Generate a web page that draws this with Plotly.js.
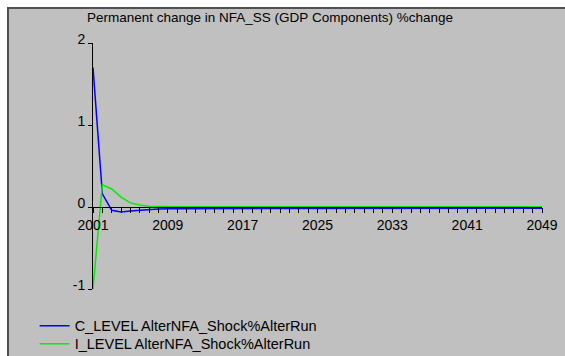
<!DOCTYPE html>
<html>
<head>
<meta charset="utf-8">
<script src="https://cdn.plot.ly/plotly-3.0.1.min.js"></script>
<style>
html,body{margin:0;padding:0;background:#ffffff;width:565px;height:356px;overflow:hidden;}
#frame{position:absolute;left:7px;top:7px;width:556px;height:347px;border-top:2px solid #505050;border-left:2px solid #505050;background:#c0c0c0;}
#chart{width:556px;height:347px;}
</style>
</head>
<body>
<div id="frame"><div id="chart"></div></div>
<script>
const years = [];
for (let y = 2001; y <= 2049; y++) years.push(y);

const cLevel = [1.70, 0.16, -0.04, -0.06, -0.05, -0.04, -0.03, -0.025, -0.02, -0.02,
  -0.018, -0.017, -0.016, -0.016, -0.015, -0.015, -0.015, -0.015, -0.015, -0.015,
  -0.015, -0.015, -0.015, -0.015, -0.015, -0.015, -0.015, -0.015, -0.015, -0.015,
  -0.015, -0.015, -0.015, -0.015, -0.015, -0.015, -0.015, -0.015, -0.015, -0.015,
  -0.015, -0.015, -0.015, -0.015, -0.015, -0.015, -0.015, -0.015, -0.015];

const iLevel = [-1.00, 0.27, 0.22, 0.12, 0.05, 0.025, 0.01, 0.005, 0.004, 0.003,
  0.003, 0.003, 0.003, 0.003, 0.003, 0.003, 0.003, 0.003, 0.003, 0.003,
  0.003, 0.003, 0.003, 0.003, 0.003, 0.003, 0.003, 0.003, 0.003, 0.003,
  0.003, 0.003, 0.003, 0.003, 0.003, 0.003, 0.003, 0.003, 0.003, 0.003,
  0.003, 0.003, 0.003, 0.003, 0.003, 0.003, 0.003, 0.003, 0.003];

const yTickVals = [-1, 0, 1, 2];
const yTickText = ["-1", "0", "1", "2"];
const seriesNames = ["C_LEVEL AlterNFA_Shock%AlterRun", "I_LEVEL AlterNFA_Shock%AlterRun"];
const titleText = "Permanent change in NFA_SS (GDP Components) %change";

const traces = [
  {x: years, y: cLevel, type: "scatter", mode: "lines", name: seriesNames[0],
   legend: "legend", line: {color: "#0000ff", width: 1.5}},
  {x: years, y: iLevel, type: "scatter", mode: "lines", name: seriesNames[1],
   legend: "legend2", line: {color: "#00ee00", width: 1.5}}
];

const legendBase = {x: -0.13, xanchor: "left", yanchor: "top",
  bgcolor: "rgba(0,0,0,0)", font: {size: 14.5}, itemwidth: 30};

const layout = {
  width: 556, height: 347,
  paper_bgcolor: "#c0c0c0", plot_bgcolor: "#c0c0c0",
  margin: {l: 84, r: 23, t: 34, b: 67, autoexpand: false},
  font: {family: "Liberation Sans, Arial, sans-serif", color: "#000000", size: 14},
  title: {text: titleText, x: 261/556, xref: "container", xanchor: "center", y: 0.975, yanchor: "middle",
          font: {size: 13.5, color: "#000000"}},
  showlegend: true,
  legend: Object.assign({}, legendBase, {y: -0.085}),
  legend2: Object.assign({}, legendBase, {y: -0.158}),
  xaxis: {
    range: [2001, 2049], anchor: "free", position: 1/3,
    showline: true, linecolor: "#000000", linewidth: 1,
    showgrid: false, zeroline: false,
    tick0: 2001, dtick: 8, ticks: "outside", ticklen: 5, tickcolor: "#000000",
    minor: {dtick: 1, tick0: 2001, ticks: "outside", ticklen: 5, tickcolor: "#000000", showgrid: false},
    tickfont: {size: 14}
  },
  yaxis: {
    range: [-1, 2], showline: true, linecolor: "#000000", linewidth: 1,
    showgrid: false, zeroline: false,
    tickvals: yTickVals, ticktext: yTickText, ticks: "outside", ticklen: 4, tickcolor: "#000000",
    ticklabelshift: -4,
    tickfont: {size: 14}
  }
};

Plotly.newPlot("chart", traces, layout, {displayModeBar: false, staticPlot: true});
</script>
</body>
</html>
